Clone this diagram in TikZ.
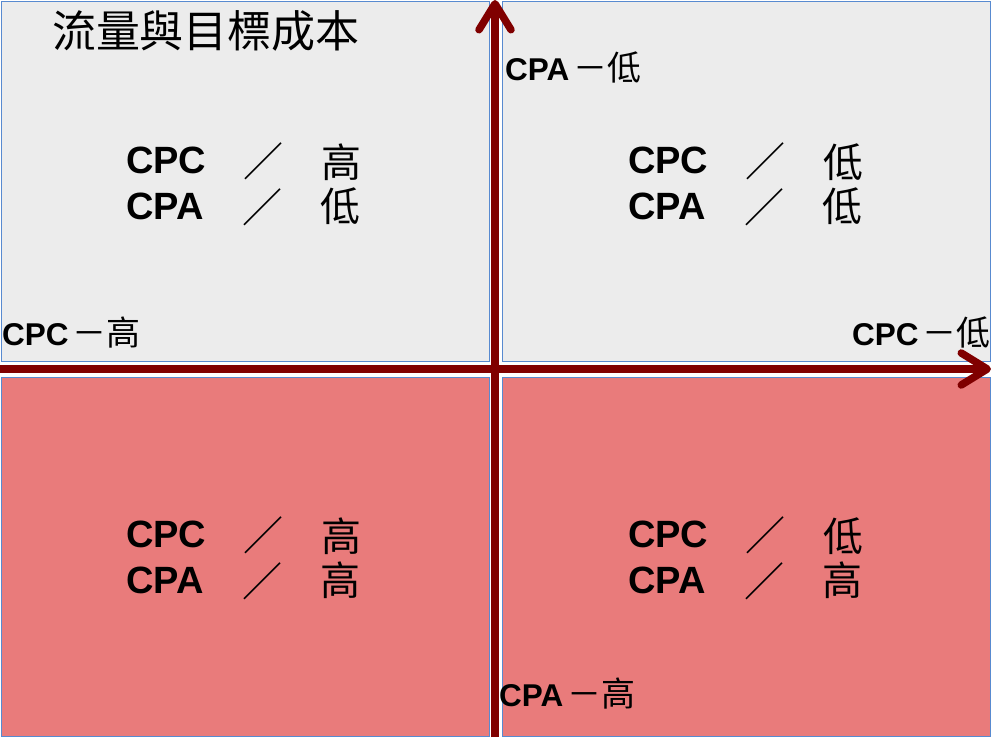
\documentclass[tikz,border=0pt]{standalone}
\usepackage{fontspec}
\setmainfont{Liberation Sans}
\newfontfamily\cjk{Noto Sans CJK TC}
\usetikzlibrary{arrows.meta}
\definecolor{quadgray}{RGB}{236,236,236}
\definecolor{quadred}{RGB}{233,123,123}
\definecolor{quadblue}{RGB}{88,138,208}
\definecolor{axisred}{RGB}{128,0,0}
\tikzset{
  quad/.style={draw=quadblue, line width=0.9pt, inner sep=0, anchor=north west},
  graybox/.style={quad, fill=quadgray},
  redbox/.style={quad, fill=quadred},
  axis/.style={draw=axisred, line width=7.5pt,
    -{Straight Barb[length=26pt, width=32pt, round]}},
  bigen/.style={font=\fontsize{38}{40}\selectfont\bfseries, inner sep=0, anchor=base west},
  bigcjk/.style={font=\cjk\fontsize{40}{42}\selectfont, inner sep=0, anchor=center},
  axlab/.style={font=\fontsize{31.5}{33}\selectfont, inner sep=0, anchor=base west},
}
\newcommand{\ax}[2]{{\bfseries #1}\hspace{4pt}{\cjk\fontsize{34}{36}\selectfont －#2}}
\begin{document}
\begin{tikzpicture}[x=1pt,y=-1pt]
\useasboundingbox (0,0) rectangle (991,737);
% quadrants
\node[graybox, minimum width=488pt, minimum height=360pt] (q1) at (0.5,0.5) {};
\node[graybox, minimum width=488pt, minimum height=360pt] (q2) at (502,0.5) {};
\node[redbox, minimum width=488pt, minimum height=359pt] (q3) at (0.5,377) {};
\node[redbox, minimum width=488pt, minimum height=359pt] (q4) at (502,377) {};
% axes
\coordinate (vbot) at (495,737);
\coordinate (vtop) at (495,0);
\coordinate (hleft) at (0,369);
\coordinate (hright) at (991,369);
\draw[axis] (vbot) -- (vtop);
\draw[axis] (hleft) -- (hright);
% title
\node[font=\cjk\fontsize{44}{46}\selectfont, inner sep=0] (title) at (206,31) {流量與目標成本};
% axis labels
\node[axlab] (cpalow) at (505,80) {\ax{CPA}{低}};
\node[axlab] (cpchigh) at (2,345) {\ax{CPC}{高}};
\node[axlab] (cpclow) at (852,345) {\ax{CPC}{低}};
\node[axlab] (cpahigh) at (499,706) {\ax{CPA}{高}};
% quadrant 1
\node[bigen] (a1) at (126,173) {CPC};
\node[bigen] (a2) at (126,219) {CPA};
\node[bigcjk] (a3) at (263,161) {／};
\node[bigcjk] (a4) at (262,207) {／};
\node[bigcjk] (a5) at (341,162) {高};
\node[bigcjk] (a6) at (340,206) {低};
% quadrant 2
\node[bigen] (b1) at (628,173) {CPC};
\node[bigen] (b2) at (628,219) {CPA};
\node[bigcjk] (b3) at (765,161) {／};
\node[bigcjk] (b4) at (764,207) {／};
\node[bigcjk] (b5) at (843,162) {低};
\node[bigcjk] (b6) at (842,206) {低};
% quadrant 3
\node[bigen] (c1) at (126,547) {CPC};
\node[bigen] (c2) at (126,593) {CPA};
\node[bigcjk] (c3) at (263,535) {／};
\node[bigcjk] (c4) at (262,581) {／};
\node[bigcjk] (c5) at (341,536) {高};
\node[bigcjk] (c6) at (340,580) {高};
% quadrant 4
\node[bigen] (d1) at (628,547) {CPC};
\node[bigen] (d2) at (628,593) {CPA};
\node[bigcjk] (d3) at (765,535) {／};
\node[bigcjk] (d4) at (764,581) {／};
\node[bigcjk] (d5) at (843,536) {低};
\node[bigcjk] (d6) at (842,580) {高};
\end{tikzpicture}
\end{document}
